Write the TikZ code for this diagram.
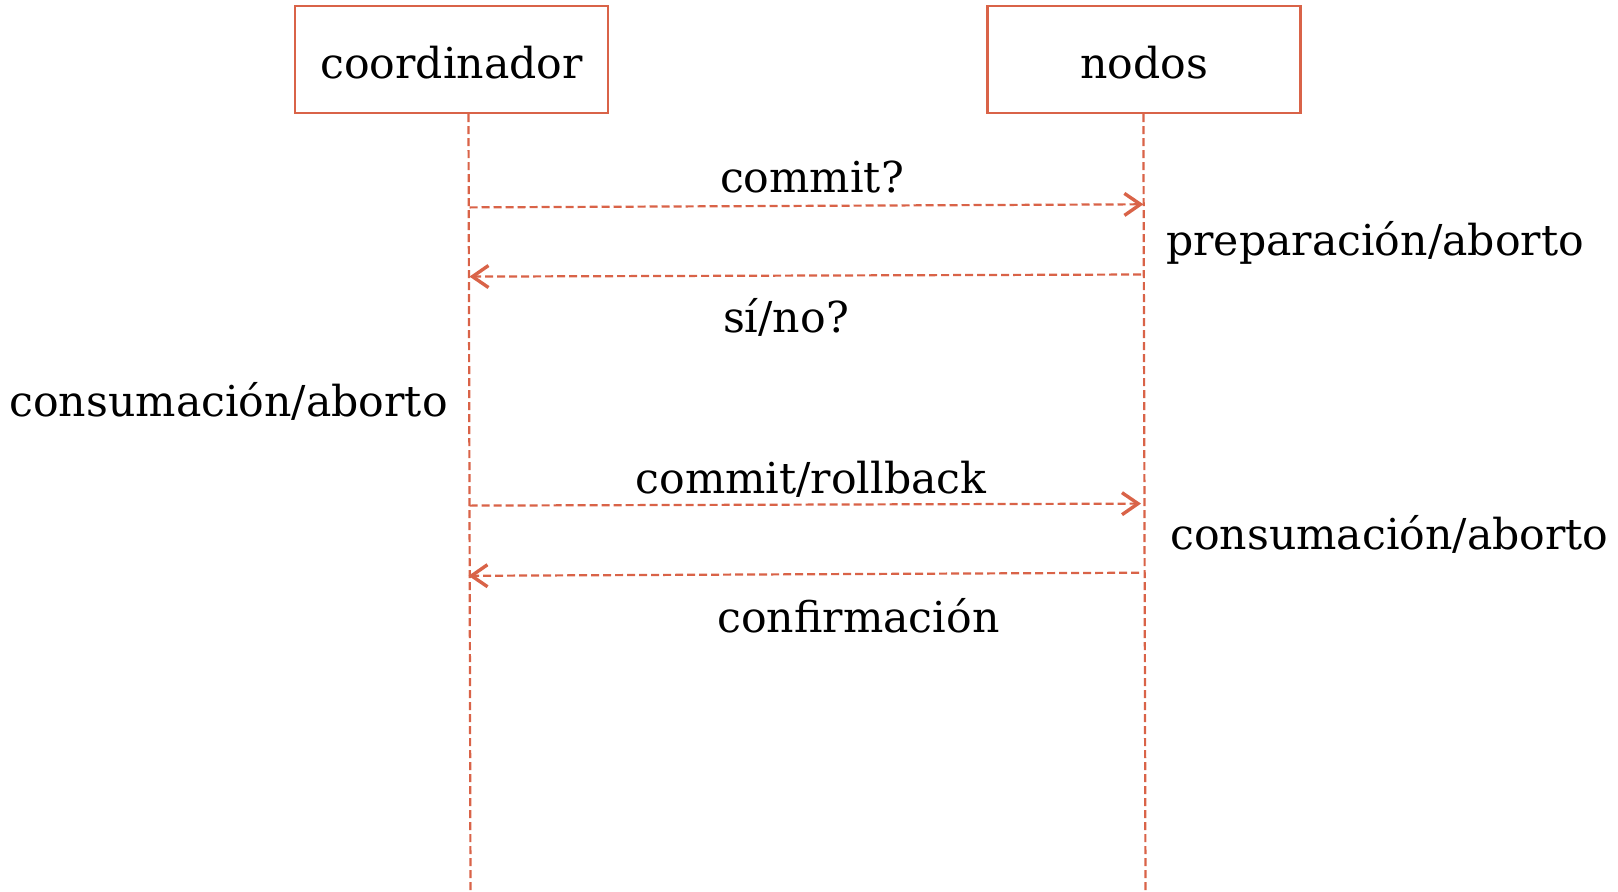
\documentclass[tikz,border=0pt]{standalone}
\usepackage{fontspec}
\setmainfont{DejaVu Serif}
\usetikzlibrary{arrows.meta}
\definecolor{lineorange}{RGB}{217,99,72}
\tikzset{
  actor/.style={draw=lineorange, line width=2.2pt, minimum width=313pt, minimum height=107pt, inner sep=0pt, text height=37pt, text depth=0pt, font=\fontsize{42.6}{50}\selectfont},
  lifeline/.style={draw=lineorange, line width=2.2pt, dash pattern=on 8pt off 4pt},
  msg/.style={lifeline, -{Straight Barb[length=16pt,width=22pt,line width=3.4pt]}},
  lbl/.style={inner sep=0pt, font=\fontsize{42.6}{50}\selectfont},
}
\begin{document}
\begin{tikzpicture}[x=1pt,y=-1pt]
\useasboundingbox (0,0) rectangle (1618,892);
% participants
\node[actor] (coord) at (451.5,59.5) {coordinador};
\node[actor] (nodos) at (1144,59.5) {nodos};
% lifeline ends
\coordinate (cbot) at (470.5,891);
\coordinate (nbot) at (1145.5,891);
\draw[lifeline] (coord.south -| 468.5,0) -- (cbot);
\draw[lifeline] (nodos.south -| 1143.4,0) -- (nbot);
% message end points on the lifelines
\coordinate (c1) at (469.5,207.4);
\coordinate (n1) at (1143.4,204.3);
\coordinate (n2) at (1141,274.5);
\coordinate (c2) at (469.5,276.6);
\coordinate (c3) at (469.5,505.6);
\coordinate (n3) at (1141,503.6);
\coordinate (n4) at (1139,572.7);
\coordinate (c4) at (468.5,575.8);
% messages
\draw[msg] (c1) -- (n1);
\draw[msg] (n2) -- (c2);
\draw[msg] (c3) -- (n3);
\draw[msg] (n4) -- (c4);
% labels
\node[lbl] (l1) at (812,177) {commit?};
\node[lbl] (l2) at (786,317) {sí/no?};
\node[lbl] (l3) at (811,479) {commit/rollback};
\node[lbl] (l4) at (858.5,616) {confirmación};
\node[lbl, anchor=west] (s1) at (1166,243) {preparación/aborto};
\node[lbl, anchor=east] (s2) at (448,401) {consumación/aborto};
\node[lbl, anchor=west] (s3) at (1170,534) {consumación/aborto};
\end{tikzpicture}
\end{document}
